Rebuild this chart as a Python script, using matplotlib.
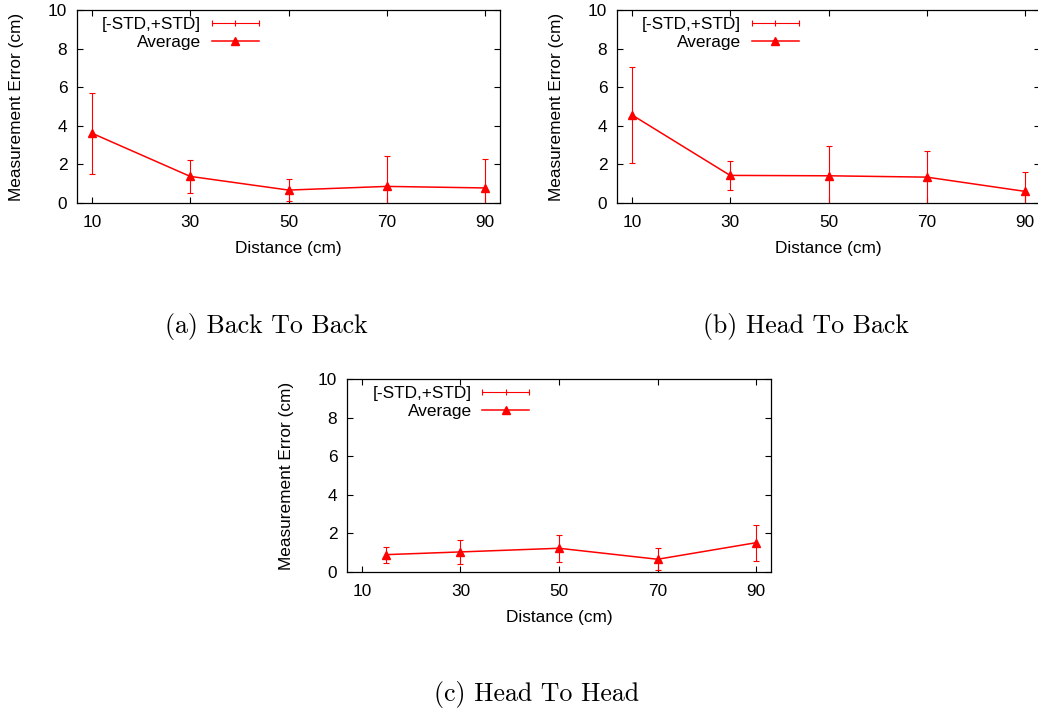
import matplotlib
matplotlib.use('Agg')
import matplotlib.pyplot as plt
from matplotlib.lines import Line2D
from matplotlib.legend_handler import HandlerLine2D

# Данные трёх экспериментов
dist_ab = [10, 30, 50, 70, 90]
mean_btb = [3.62, 1.38, 0.67, 0.86, 0.78]
std_btb = [2.10, 0.84, 0.55, 1.57, 1.48]

mean_htb = [4.57, 1.43, 1.41, 1.34, 0.60]
std_htb = [2.50, 0.77, 1.54, 1.38, 1.00]

dist_c = [15, 30, 50, 70, 90]
mean_hth = [0.90, 1.04, 1.23, 0.66, 1.52]
std_hth = [0.41, 0.62, 0.71, 0.57, 0.93]

x_ticks = [10, 30, 50, 70, 90]
y_ticks = [0, 2, 4, 6, 8, 10]
captions = ['(a) Back To Back', '(b) Head To Back', '(c) Head To Head']

plt.rcParams['font.family'] = ['Liberation Sans', 'DejaVu Sans']

W, H = 1038, 713
fig = plt.figure(figsize=(W / 100, H / 100), dpi=100)


def px_axes(left, top, right, bottom):
    return fig.add_axes([left / W, 1 - bottom / H, (right - left) / W, (bottom - top) / H])


def draw_panel(ax, x, mean, std):
    red = '#ff0000'
    ax.errorbar(x, mean, yerr=std, fmt='none', ecolor=red, elinewidth=0.8,
                capsize=2.5, capthick=0.8)
    avg_line, = ax.plot(x, mean, color=red, lw=1.1, marker='^', ms=5.5)

    ax.set_xlim(7, 93)
    ax.set_ylim(0, 10)
    ax.set_xticks(x_ticks)
    ax.set_yticks(y_ticks)
    ax.tick_params(direction='in', top=True, right=True, length=4.3, width=0.8,
                   labelsize=12.4)
    ax.tick_params(axis='y', pad=7)
    ax.tick_params(axis='x', pad=8.5)
    for sp in ax.spines.values():
        sp.set_linewidth(0.9)

    ax.set_xlabel('Distance (cm)', fontsize=12.4, labelpad=8)
    ax.set_ylabel('Measurement Error (cm)', fontsize=12.4, labelpad=17)

    std_handle = Line2D([], [], color=red, lw=0.8, marker='|', ms=5, mew=0.8)
    ax.legend([std_handle, avg_line], ['[-STD,+STD]', 'Average'],
              handler_map={std_handle: HandlerLine2D(numpoints=3, marker_pad=0)},
              loc='upper right', bbox_to_anchor=(0.43, 0.965), frameon=False,
              markerfirst=False, fontsize=12.4, handlelength=2.75,
              handletextpad=0.6, labelspacing=0.2, borderpad=0, borderaxespad=0)


ax_a = px_axes(77, 10, 500, 203)
draw_panel(ax_a, dist_ab, mean_btb, std_btb)

ax_b = px_axes(617, 10, 1040, 203)
draw_panel(ax_b, dist_ab, mean_htb, std_htb)

ax_c = px_axes(347, 379, 771, 572)
draw_panel(ax_c, dist_c, mean_hth, std_hth)

# Подписи под графиками
cap_pos = [(266, 327), (806, 327), (537, 695)]
for text, (cx, cy) in zip(captions, cap_pos):
    fig.text(cx / W, 1 - cy / H, text, family='cmr10', fontsize=18.6,
             ha='center', va='center')

fig.savefig('out.png', dpi=100)
